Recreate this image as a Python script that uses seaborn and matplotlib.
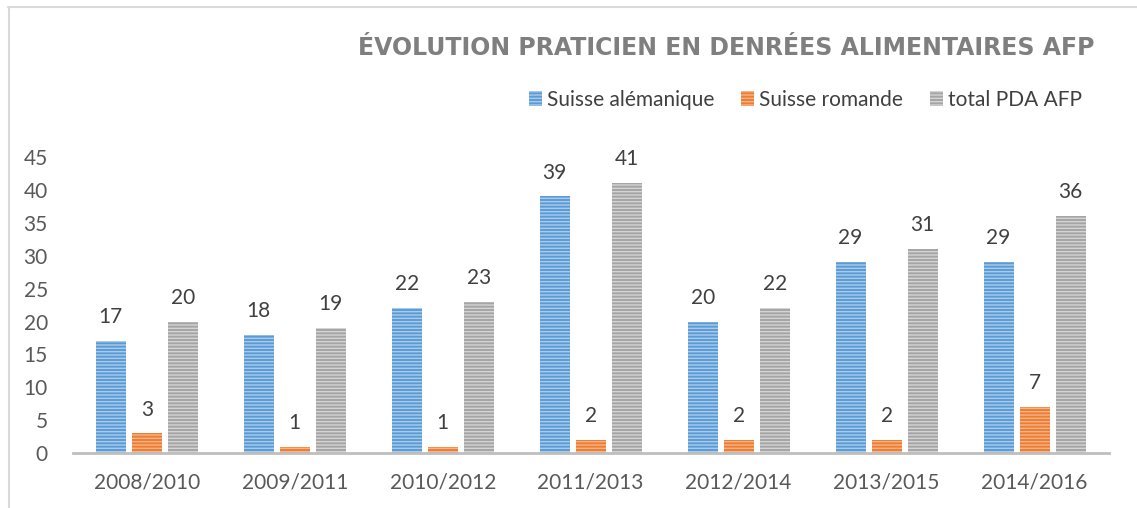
import matplotlib
matplotlib.use('Agg')
import matplotlib.pyplot as plt
import seaborn as sns
import pandas as pd
from matplotlib.lines import Line2D
from matplotlib.patches import Patch

# data
periods = ['2008/2010', '2009/2011', '2010/2012', '2011/2013', '2012/2014', '2013/2015', '2014/2016']
alemanique = [17, 18, 22, 39, 20, 29, 29]
romande = [3, 1, 1, 2, 2, 2, 7]
total_pda = [20, 19, 23, 41, 22, 31, 36]
series_names = ['Suisse alémanique', 'Suisse romande', 'total PDA AFP']

colors = ['#5B9BD5', '#ED7D31', '#A5A5A5']
stripe_colors = ['#A9CBEB', '#F6B48A', '#D4D4D4']

sns.set_theme(style='white')
plt.rcParams['font.family'] = ['Lato', 'DejaVu Sans']
plt.rcParams['hatch.linewidth'] = 1.0

df = pd.DataFrame({
    'period': periods * 3,
    'value': alemanique + romande + total_pda,
    'series': [series_names[0]] * 7 + [series_names[1]] * 7 + [series_names[2]] * 7,
})

fig = plt.figure(figsize=(11.37, 5.08), dpi=100)
ax = fig.add_axes([0.064, 0.108, 0.911, 0.583])

sns.barplot(data=df, x='period', y='value', hue='series', hue_order=series_names,
            palette=colors, width=0.73, gap=0.17, ax=ax, legend=False,
            saturation=1, errorbar=None)

# stripes + data labels
for i, cont in enumerate(ax.containers):
    for bar in cont:
        bar.set_hatch('-----')
        bar.set_edgecolor(stripe_colors[i])
        bar.set_linewidth(0)
    ax.bar_label(cont, padding=10, fontsize=15, color='#404040')

ax.set_ylim(0, 45)
ax.set_yticks(range(0, 46, 5))
ax.set_xlim(-0.5, 6.5)
ax.set_xlabel('')
ax.set_ylabel('')
for side in ['top', 'right', 'left']:
    ax.spines[side].set_visible(False)
ax.spines['bottom'].set_color('#BFBFBF')
ax.spines['bottom'].set_linewidth(2)
ax.tick_params(axis='both', length=0, labelsize=15, labelcolor='#595959')
ax.tick_params(axis='x', pad=14)
ax.tick_params(axis='y', pad=18)
for lab in ax.get_yticklabels():
    lab.set_horizontalalignment('right')

# title
fig.text(0.963, 0.905, 'ÉVOLUTION PRATICIEN EN DENRÉES ALIMENTAIRES AFP',
         ha='right', va='center', fontsize=17, fontweight='bold', color='#7F7F7F',
         family=['DejaVu Sans'])

# legend
handles = [Patch(facecolor=c, edgecolor=s, hatch='-----', linewidth=0)
           for c, s in zip(colors, stripe_colors)]
fig.legend(handles, series_names, loc='center right', bbox_to_anchor=(0.968, 0.803),
           ncol=3, frameon=False, fontsize=15, handlelength=0.6, handleheight=0.7,
           handletextpad=0.25, columnspacing=1.3, labelcolor='#404040')

# chart frame (top and left edges visible)
fig.add_artist(Line2D([0.007, 1.0], [0.986, 0.986], color='#D9D9D9', lw=1.5, transform=fig.transFigure))
fig.add_artist(Line2D([0.008, 0.008], [0.0, 0.986], color='#D9D9D9', lw=1.5, transform=fig.transFigure))

fig.savefig('out.png', dpi=100)
